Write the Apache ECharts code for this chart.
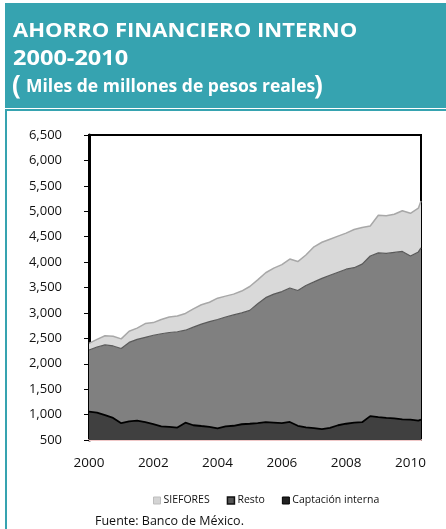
<!DOCTYPE html>
<html>
<head>
<meta charset="utf-8">
<script src="https://cdn.jsdelivr.net/npm/echarts@6/dist/echarts.min.js"></script>
<style>
html, body { margin: 0; padding: 0; background: #fff; }
#grafica { width: 446px; height: 529px; }
</style>
</head>
<body>
<div id="grafica"></div>
<script>
// fechas trimestrales, ene-2000 a may-2010
var fechas = ['2000-01-01', '2000-04-01', '2000-07-01', '2000-10-01', '2001-01-01', '2001-04-01', '2001-07-01', '2001-10-01',
	'2002-01-01', '2002-04-01', '2002-07-01', '2002-10-01', '2003-01-01', '2003-04-01', '2003-07-01', '2003-10-01',
	'2004-01-01', '2004-04-01', '2004-07-01', '2004-10-01', '2005-01-01', '2005-04-01', '2005-07-01', '2005-10-01',
	'2006-01-01', '2006-04-01', '2006-07-01', '2006-10-01', '2007-01-01', '2007-04-01', '2007-07-01', '2007-10-01',
	'2008-01-01', '2008-04-01', '2008-07-01', '2008-10-01', '2009-01-01', '2009-04-01', '2009-07-01', '2009-10-01',
	'2010-01-01', '2010-04-01', '2010-05-01'];

var captacion = [1060, 1040, 990, 935, 830, 865, 880, 850,
	810, 770, 760, 745, 840, 790, 775, 760,
	730, 770, 780, 810, 820, 830, 850, 840,
	830, 855, 780, 750, 735, 715, 740, 790,
	820, 840, 850, 970, 950, 935, 925, 905,
	900, 880, 900];

var resto = [1210, 1290, 1380, 1415, 1470, 1555, 1600, 1670,
	1750, 1820, 1855, 1885, 1820, 1930, 2005, 2070,
	2140, 2150, 2180, 2190, 2230, 2350, 2450, 2530,
	2590, 2635, 2660, 2790, 2875, 2965, 3000, 3010,
	3040, 3050, 3110, 3150, 3230, 3235, 3265, 3305,
	3220, 3320, 3380];

var siefores = [130, 150, 180, 190, 190, 220, 220, 270,
	250, 280, 305, 310, 330, 360, 380, 380,
	420, 410, 410, 430, 470, 470, 490, 510,
	530, 570, 570, 600, 690, 710, 710, 710,
	710, 750, 720, 590, 740, 740, 750, 800,
	840, 860, 920];

var ejeXMin = '2000-01-01', ejeXMax = '2010-05-01';
var ejeYMin = 500, ejeYMax = 6500, ejeYPaso = 500;

var fuente = '"Open Sans", "DejaVu Sans", sans-serif';
var teal = '#36A3B0';

function pares(valores) {
	var out = [];
	for (var i = 0; i < fechas.length; i++) {
		out.push([fechas[i], valores[i]]);
	}
	return out;
}

var dom = document.getElementById('grafica');
var myChart = echarts.init(dom, null, { renderer: 'canvas' });

var option = {
	animation: false,
	backgroundColor: '#fff',
	graphic: [
		{ type: 'rect', shape: { x: 5, y: 3, width: 441, height: 105 }, style: { fill: teal } },
		{ type: 'rect', shape: { x: 6, y: 110, width: 445, height: 425 }, style: { fill: 'none', stroke: teal, lineWidth: 2 } },
		{ type: 'text', x: 13, y: 22, scaleX: 1.16, style: { text: 'AHORRO FINANCIERO INTERNO', fill: '#fff', font: 'bold 19px ' + fuente } },
		{ type: 'text', x: 13, y: 48, scaleX: 1.07, style: { text: '2000-2010', fill: '#fff', font: 'bold 22px ' + fuente } },
		{ type: 'text', x: 12, y: 74, style: { text: '(', fill: '#fff', font: 'bold 26px ' + fuente } },
		{ type: 'text', x: 26, y: 78, style: { text: 'Miles de millones de pesos reales', fill: '#fff', font: 'bold 17.5px ' + fuente } },
		{ type: 'text', x: 314, y: 74, style: { text: ')', fill: '#fff', font: 'bold 26px ' + fuente } },
		{ type: 'text', x: 95, y: 515, style: { text: 'Fuente: Banco de México.', fill: '#111', font: '12.5px ' + fuente } }
	],
	legend: {
		left: 148,
		top: 490,
		itemWidth: 7,
		itemHeight: 7,
		itemGap: 17,
		icon: 'rect',
		textStyle: { fontFamily: fuente, fontSize: 10.5, color: '#111', padding: [0, 0, 0, -2] },
		data: [
			{ name: 'SIEFORES', itemStyle: { color: '#D4D4D4', borderColor: '#BDBDBD', borderWidth: 1 } },
			{ name: 'Resto', itemStyle: { color: '#555', borderColor: '#111', borderWidth: 1.5 } },
			{ name: 'Captación interna', itemStyle: { color: '#222', borderColor: '#000', borderWidth: 1 } }
		]
	},
	grid: {
		left: 89,
		right: 25,
		top: 135,
		bottom: 89,
		show: true,
		borderColor: '#000',
		borderWidth: 2,
		backgroundColor: '#fff'
	},
	xAxis: {
		type: 'time',
		min: ejeXMin,
		max: ejeXMax,
		splitLine: { show: false },
		axisTick: { show: false },
		axisLine: { show: true, onZero: false, lineStyle: { color: '#F0C8C8', width: 2 } },
		axisLabel: {
			margin: 16,
			color: '#111',
			fontFamily: fuente,
			fontSize: 13.5,
			showMaxLabel: false,
			formatter: function (v) {
				var d = new Date(v);
				var y = d.getFullYear();
				return (d.getMonth() === 0 && y % 2 === 0) ? String(y) : '';
			}
		}
	},
	yAxis: {
		type: 'value',
		min: ejeYMin,
		max: ejeYMax,
		interval: ejeYPaso,
		splitLine: { show: false },
		axisLine: { show: true, lineStyle: { color: '#000', width: 3 } },
		axisTick: { show: true, length: 5, lineStyle: { color: '#000', width: 1 } },
		axisLabel: {
			margin: 27,
			color: '#111',
			fontFamily: fuente,
			fontSize: 13,
			formatter: function (v) {
				return v.toLocaleString('en-US');
			}
		}
	},
	series: [
		{
			name: 'Captación interna',
			type: 'line',
			stack: 'total',
			symbol: 'none',
			data: pares(captacion),
			lineStyle: { color: '#000', width: 1.8 },
			itemStyle: { color: '#222' },
			areaStyle: { color: '#404040', opacity: 1 }
		},
		{
			name: 'Resto',
			type: 'line',
			stack: 'total',
			symbol: 'none',
			data: pares(resto),
			lineStyle: { color: '#5a5a5a', width: 1.2 },
			itemStyle: { color: '#555' },
			areaStyle: { color: '#808080', opacity: 1 }
		},
		{
			name: 'SIEFORES',
			type: 'line',
			stack: 'total',
			symbol: 'none',
			data: pares(siefores),
			lineStyle: { color: '#A8A8A8', width: 1.5 },
			itemStyle: { color: '#D4D4D4' },
			areaStyle: { color: '#D9D9D9', opacity: 1 }
		}
	]
};

if (option && typeof option === 'object') {
	myChart.setOption(option);
}
</script>
</body>
</html>
